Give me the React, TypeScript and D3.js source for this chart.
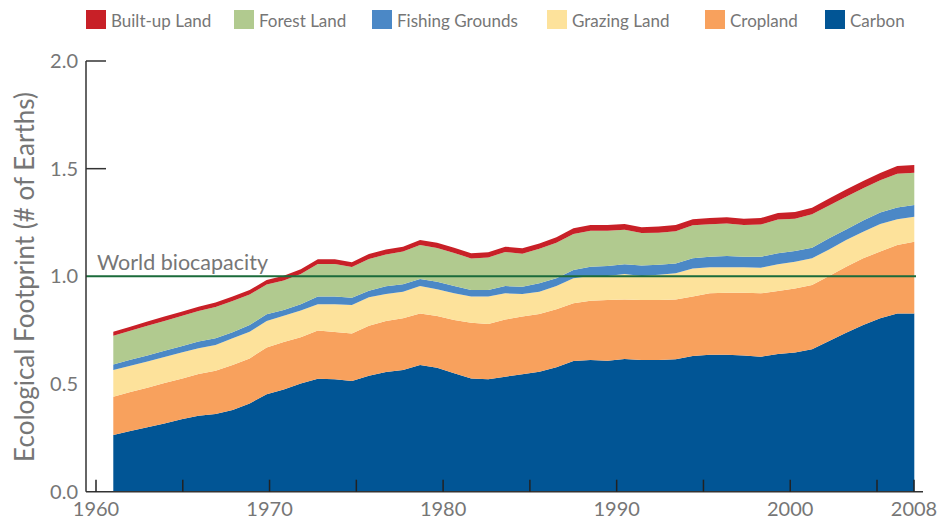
import * as d3 from "d3"

// Ecological Footprint by component, 1961-2008 (number of planet Earths)
const years = d3.range(1961, 2009)

const carbon = [
    0.263, 0.282, 0.299, 0.317, 0.336, 0.353, 0.361, 0.379, 0.410, 0.452,
    0.475, 0.503, 0.525, 0.522, 0.514, 0.539, 0.556, 0.565, 0.588, 0.576,
    0.550, 0.526, 0.522, 0.534, 0.545, 0.557, 0.578, 0.607, 0.612, 0.608,
    0.616, 0.612, 0.612, 0.615, 0.630, 0.636, 0.636, 0.632, 0.627, 0.639,
    0.646, 0.661, 0.700, 0.738, 0.774, 0.805, 0.828, 0.828
]
const cropland = [
    0.178, 0.181, 0.184, 0.188, 0.189, 0.194, 0.201, 0.209, 0.209, 0.218,
    0.220, 0.214, 0.224, 0.220, 0.221, 0.232, 0.237, 0.240, 0.240, 0.240,
    0.247, 0.259, 0.257, 0.266, 0.268, 0.268, 0.269, 0.268, 0.275, 0.282,
    0.277, 0.278, 0.278, 0.278, 0.276, 0.285, 0.288, 0.292, 0.294, 0.293,
    0.298, 0.299, 0.302, 0.307, 0.310, 0.310, 0.318, 0.333
]
const grazing = [
    0.124, 0.122, 0.122, 0.120, 0.121, 0.119, 0.119, 0.124, 0.124, 0.123,
    0.122, 0.124, 0.121, 0.128, 0.132, 0.132, 0.125, 0.124, 0.127, 0.124,
    0.124, 0.121, 0.127, 0.121, 0.105, 0.104, 0.108, 0.116, 0.115, 0.112,
    0.118, 0.112, 0.118, 0.121, 0.131, 0.121, 0.118, 0.118, 0.119, 0.124,
    0.124, 0.124, 0.123, 0.124, 0.123, 0.128, 0.119, 0.116
]
const fishing = [
    0.026, 0.028, 0.028, 0.030, 0.029, 0.031, 0.031, 0.028, 0.031, 0.031,
    0.027, 0.029, 0.036, 0.036, 0.034, 0.030, 0.036, 0.034, 0.033, 0.035,
    0.034, 0.031, 0.031, 0.034, 0.034, 0.039, 0.036, 0.038, 0.043, 0.046,
    0.045, 0.048, 0.046, 0.046, 0.047, 0.049, 0.052, 0.049, 0.051, 0.051,
    0.050, 0.049, 0.052, 0.049, 0.052, 0.053, 0.055, 0.054
]
const forest = [
    0.133, 0.134, 0.138, 0.138, 0.141, 0.142, 0.146, 0.145, 0.142, 0.138,
    0.137, 0.141, 0.151, 0.151, 0.142, 0.148, 0.148, 0.152, 0.158, 0.157,
    0.154, 0.146, 0.151, 0.158, 0.153, 0.160, 0.165, 0.168, 0.167, 0.164,
    0.160, 0.151, 0.149, 0.150, 0.153, 0.151, 0.151, 0.148, 0.150, 0.157,
    0.150, 0.155, 0.152, 0.152, 0.150, 0.150, 0.157, 0.150
]
const builtUp = [
    0.019, 0.019, 0.019, 0.020, 0.020, 0.020, 0.020, 0.021, 0.021, 0.021,
    0.022, 0.022, 0.022, 0.022, 0.022, 0.023, 0.023, 0.023, 0.023, 0.024,
    0.024, 0.024, 0.024, 0.025, 0.025, 0.025, 0.025, 0.026, 0.026, 0.026,
    0.027, 0.027, 0.028, 0.028, 0.028, 0.029, 0.029, 0.029, 0.030, 0.030,
    0.031, 0.031, 0.032, 0.033, 0.034, 0.034, 0.035, 0.036
]

// stacking order, bottom to top
const seriesKeys = ["carbon", "cropland", "grazing", "fishing", "forest", "builtUp"]
const seriesValues = { carbon, cropland, grazing, fishing, forest, builtUp }
const seriesColors = {
    carbon: "#015595",
    cropland: "#f8a15d",
    grazing: "#fde29b",
    fishing: "#4b88c6",
    forest: "#b1ca8f",
    builtUp: "#c82027"
}

// legend reads left to right in the opposite order
const legendItems = [
    { key: "builtUp", label: "Built-up Land", x: 86 },
    { key: "forest", label: "Forest Land", x: 234 },
    { key: "fishing", label: "Fishing Grounds", x: 372 },
    { key: "grazing", label: "Grazing Land", x: 547 },
    { key: "cropland", label: "Cropland", x: 705 },
    { key: "carbon", label: "Carbon", x: 825 }
]

const yTicks = [0, 0.5, 1.0, 1.5, 2.0]
const yTickMarks = [1.5, 2.0]
const xTickYears = [1960, 1965, 1970, 1975, 1980, 1985, 1990, 1995, 2000, 2005, 2008]
const xLabelYears = [1960, 1970, 1980, 1990, 2000, 2008]
const biocapacity = 1.0

const FONT = "Lato, 'Open Sans', sans-serif"
const GREY = "#767676"

export default function App() {
    const width = 941
    const height = 521
    const marginLeft = 86
    const axisRight = 923

    const rows = years.map((year, i) => {
        const row: any = { year }
        seriesKeys.forEach(k => { row[k] = seriesValues[k][i] })
        return row
    })
    const stacked = d3.stack().keys(seriesKeys)(rows)

    // data points and the drawn ticks sit on slightly different spacings in the original
    const x = d3.scaleLinear([1961, 2008], [113.3, 914.3])
    const xTick = d3.scaleLinear().domain([1960, 2005, 2008]).range([96, 877, 914])
    const y = d3.scaleLinear([0, 2], [491.7, 61])

    const area = d3.area<any>()
        .x(d => x(d.data.year))
        .y0(d => y(d[0]))
        .y1(d => y(d[1]))

    return (
        <svg width={width} height={height} style={{ position: "absolute", left: 0, top: 0 }} fontFamily={FONT}>
            {/* Legend */}
            {legendItems.map(item => (
                <g key={item.key} transform={`translate(${item.x}, 10)`}>
                    <rect width={20} height={19} fill={seriesColors[item.key]} />
                    <text x={25} y={17} fontSize={17} fill={GREY}>{item.label}</text>
                </g>
            ))}

            {/* Stacked areas */}
            {stacked.map(layer => (
                <path key={layer.key} d={area(layer)} fill={seriesColors[layer.key]} />
            ))}

            {/* World biocapacity line */}
            <line x1={marginLeft} x2={916} y1={y(biocapacity)} y2={y(biocapacity)} stroke="#1b6b3b" strokeWidth={2} />
            <text x={97} y={y(biocapacity) - 6} fontSize={21.5} fill={GREY}>World biocapacity</text>

            {/* Y axis */}
            <line x1={marginLeft} x2={marginLeft} y1={y(2)} y2={y(0)} stroke="#333" strokeWidth={1.5} />
            {yTickMarks.map(t => (
                <line key={t} x1={marginLeft} x2={marginLeft + 20} y1={y(t)} y2={y(t)} stroke="#333" strokeWidth={1.5} />
            ))}
            {yTicks.map(t => (
                <text key={t} x={78} y={y(t) + 7} fontSize={20} fill={GREY} textAnchor="end">
                    {d3.format(".1f")(t)}
                </text>
            ))}
            <text
                transform={`translate(24, 277) rotate(-90)`}
                textAnchor="middle"
                dominantBaseline="central"
                fontSize={26}
                fill={GREY}
            >
                Ecological Footprint (# of Earths)
            </text>

            {/* X axis */}
            <line x1={marginLeft} x2={axisRight} y1={y(0)} y2={y(0)} stroke="#333" strokeWidth={1.5} />
            {xTickYears.map(t => (
                <line key={t} x1={xTick(t)} x2={xTick(t)} y1={y(0)} y2={y(0) - 12} stroke="#222" strokeWidth={1.5} />
            ))}
            {xLabelYears.map(t => (
                <text key={t} x={xTick(t)} y={516} fontSize={20} fill={GREY} textAnchor="middle">{t}</text>
            ))}
        </svg>
    )
}
